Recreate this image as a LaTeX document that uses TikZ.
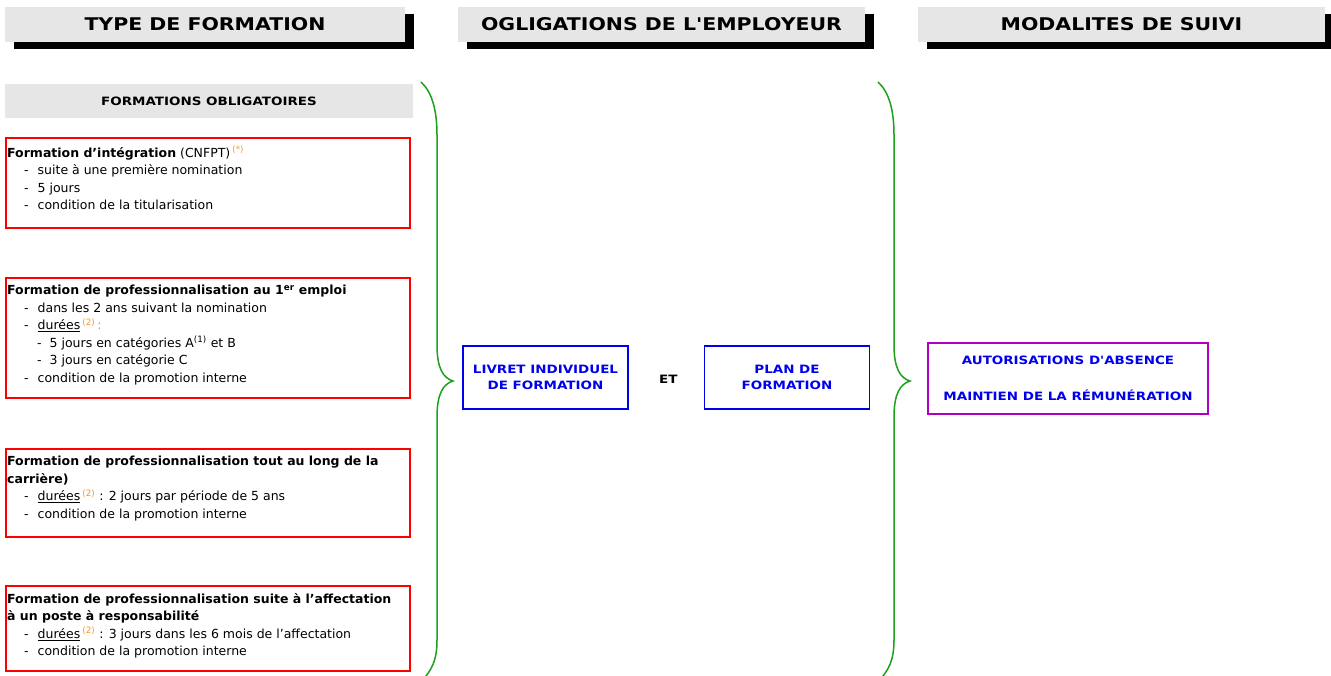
\documentclass[tikz,border=0pt]{standalone}
\usepackage{fontspec}
\setmainfont{DejaVu Sans}
\newfontfamily\headfont[FakeStretch=1.17]{DejaVu Sans}
\usetikzlibrary{calc,positioning,shadows}
\definecolor{boxgray}{RGB}{230,230,230}
\definecolor{bracegreen}{RGB}{30,160,30}
\definecolor{boxblue}{RGB}{0,0,235}
\definecolor{boxmagenta}{RGB}{175,0,190}
\definecolor{noteorange}{RGB}{245,150,40}
\newcommand{\note}[1]{\textsuperscript{\textcolor{noteorange}{#1}}}
\newcommand{\puce}{\hspace*{17pt}-\hspace{9pt}}
\newcommand{\souspuce}{\hspace*{30pt}-\hspace{8pt}}

\begin{document}
\begin{tikzpicture}[x=1pt, y=-1pt,
    headbox/.style={fill=boxgray, minimum width=402pt, minimum height=35pt, inner sep=0pt,
        font=\headfont\bfseries\fontsize{17.5}{20}\selectfont,
        drop shadow={shadow xshift=9pt, shadow yshift=-7pt, fill=black, opacity=1}},
    redbox/.style={draw=red, line width=1.5pt, anchor=north west, minimum width=404pt, inner sep=0pt},
    bodytext/.style={anchor=north west, align=left, inner sep=0pt, font=\fontsize{12.5}{17.5}\selectfont},
    capstext/.style={font=\headfont\bfseries\fontsize{11.5}{16}\selectfont},
    bluebox/.style={capstext, draw=boxblue, line width=1.5pt, text=boxblue, align=center,
        minimum width=165pt, minimum height=63pt, inner sep=0pt},
    brace/.style={draw=bracegreen, line width=1.5pt}]
                    \useasboundingbox (0, 0) rectangle (1331, 675);

                    % headers
                    \node [headbox, minimum width=400pt] (typehead) at (205, 24.5) {TYPE DE FORMATION};
                    \node [headbox, minimum width=407pt] (emplhead) at (661.5, 24.5) {OGLIGATIONS DE L'EMPLOYEUR};
                    \node [headbox, minimum width=407pt] (suivihead) at (1121.5, 24.5) {MODALITES DE SUIVI};

                    % first column
                    \node [capstext, fill=boxgray, minimum width=408pt, minimum height=34pt, inner sep=0pt] (oblig) at (209, 101) {FORMATIONS OBLIGATOIRES};

                    \node [redbox, minimum height=90pt] (integ) at (5, 137) {};
                    \node [redbox, minimum height=120pt] (premier) at (5, 277) {};
                    \node [redbox, minimum height=88pt] (carriere) at (5, 448) {};
                    \node [redbox, minimum height=85pt] (poste) at (5, 585) {};

                    \node [bodytext] (integtxt) at ([xshift=2pt, yshift=-9pt] integ.north west)
                        {\textbf{Formation d'intégration} (CNFPT)\,\note{(*)}\\
                         \puce suite à une première nomination\\
                         \puce 5 jours\\
                         \puce condition de la titularisation};
                    \node [bodytext] (premiertxt) at ([xshift=2pt, yshift=-8pt] premier.north west)
                        {\textbf{Formation de professionnalisation au 1\textsuperscript{er} emploi}\\
                         \puce dans les 2 ans suivant la nomination\\
                         \puce \underline{durées}\,\note{(2)}\,\textcolor{noteorange}{:}\\
                         \souspuce 5 jours en catégories A\textsuperscript{(1)} et B\\
                         \souspuce 3 jours en catégorie C\\
                         \puce condition de la promotion interne};
                    \node [bodytext] (carrieretxt) at ([xshift=2pt, yshift=-8pt] carriere.north west)
                        {\textbf{Formation de professionnalisation tout au long de la}\\
                         \textbf{carrière)}\\
                         \puce \underline{durées}\,\note{(2)} : 2 jours par période de 5 ans\\
                         \puce condition de la promotion interne};
                    \node [bodytext] (postetxt) at ([xshift=2pt, yshift=-8pt] poste.north west)
                        {\textbf{Formation de professionnalisation suite à l'affectation}\\
                         \textbf{à un poste à responsabilité}\\
                         \puce \underline{durées}\,\note{(2)} : 3 jours dans les 6 mois de l'affectation\\
                         \puce condition de la promotion interne};

                    % braces
                    \foreach \dx in {0, 457} {
                        \draw [brace, xshift=\dx pt] (421, 82) .. controls (432, 92) and (437, 110) .. (437, 135)
                            -- (437, 345) .. controls (437, 368) and (443, 378) .. (453, 381)
                            .. controls (443, 384) and (437, 394) .. (437, 417)
                            -- (437, 640) .. controls (437, 660) and (432, 670) .. (421, 682);
                    }

                    % employer
                    \node [bluebox] (livret) at (545.5, 377.5) {LIVRET INDIVIDUEL\\DE FORMATION};
                    \node [bluebox, right=75pt of livret] (plan) {PLAN DE\\FORMATION};
                    \node [capstext] (et) at ($ (livret.east)!0.5!(plan.west) + (2, 2) $) {ET};

                    % follow-up
                    \node [capstext, draw=boxmagenta, line width=1.5pt, text=boxblue, align=center,
                        minimum width=280pt, minimum height=71pt, inner sep=0pt] (suivi) at (1068, 378.5)
                        {AUTORISATIONS D'ABSENCE\\[20pt]MAINTIEN DE LA RÉMUNÉRATION};
                \end{tikzpicture}
\end{document}
